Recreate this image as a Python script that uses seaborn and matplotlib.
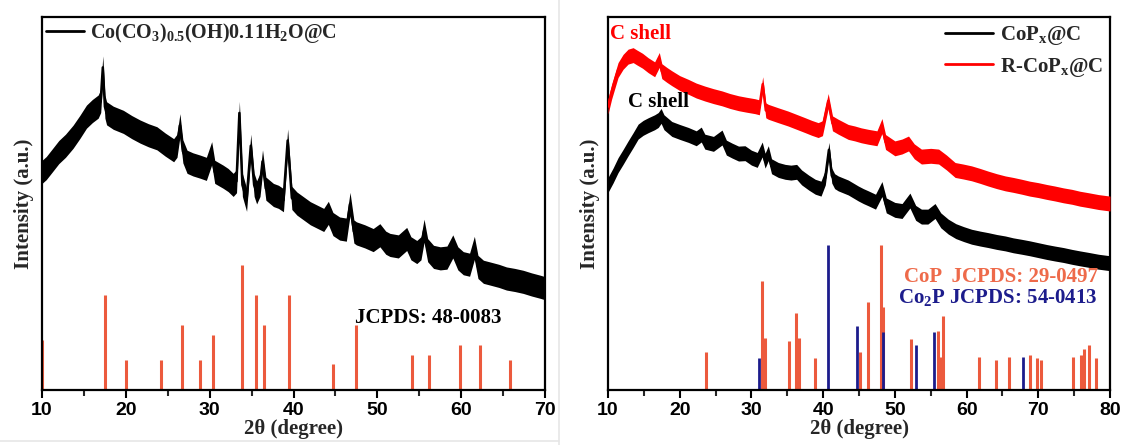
import matplotlib
matplotlib.use("Agg")
import matplotlib.pyplot as plt
from matplotlib.lines import Line2D
from matplotlib.ticker import MultipleLocator
import seaborn as sns
import pandas as pd
import numpy as np

# ---------------- data ----------------
# Left panel: Co(CO3)0.5(OH)0.11H2O@C pattern (2theta, intensity in % of axis height)
left_x = [10.0, 10.5, 11.2, 12.0, 12.8, 13.7, 14.5, 15.3, 16.0, 16.7, 17.0, 17.25, 17.5, 17.7,
          18.5, 19.7, 20.7, 21.7, 22.7, 23.7, 24.7, 25.7, 26.1, 26.45, 26.8, 27.3, 28.0, 28.85,
          29.6, 30.24, 30.6, 31.6, 32.2, 32.8, 33.2, 33.54, 33.9, 34.4, 34.9, 35.3, 35.6, 36.0,
          36.3, 36.7, 37.6, 38.2, 38.8, 39.3, 39.8, 40.4, 41.2, 42.0, 42.8, 43.6, 44.15, 44.7,
          45.5, 46.3, 46.74, 47.2, 47.5, 48.5, 49.5, 50.3, 51.0, 51.5, 52.5, 53.5, 54.0, 54.7,
          55.2, 55.57, 56.0, 56.7, 57.5, 58.3, 59.0, 59.6, 60.25, 61.0, 61.57, 62.0, 62.65, 63.5,
          64.5, 65.4, 66.4, 67.4, 68.4, 69.4, 70.0]
left_y = [58.5, 59.5, 61.5, 63.8, 65.5, 67.9, 70.5, 73.3, 74.8, 76.0, 77.5, 86.5, 76.0, 74.2,
          73.0, 71.9, 70.5, 69.3, 68.3, 67.5, 65.8, 64.3, 65.5, 71.0, 64.0, 61.2, 60.5, 59.9,
          59.3, 63.5, 58.5, 57.2, 56.3, 55.0, 56.0, 74.3, 55.0, 51.0, 65.5, 55.0, 53.0, 55.0,
          61.3, 54.0, 52.3, 51.8, 50.9, 66.9, 51.5, 50.0, 48.7, 47.4, 46.5, 45.6, 47.5, 44.5,
          43.3, 43.0, 49.9, 42.5, 42.0, 41.2, 40.2, 41.5, 39.5, 38.9, 38.5, 40.5, 38.0, 37.0,
          38.0, 42.7, 37.5, 35.7, 35.3, 35.5, 38.5, 35.3, 34.0, 33.6, 38.1, 33.0, 31.7, 31.2,
          30.6, 29.9, 29.5, 29.0, 28.3, 27.7, 27.3]

# JCPDS 48-0083 reference lines (2theta, relative intensity)
ref48_pos = [10.0, 17.5, 20.0, 24.2, 26.7, 28.8, 30.4, 33.8, 35.5, 36.5, 39.5, 44.7, 47.4,
             54.1, 56.1, 59.9, 62.3, 65.8]
ref48_int = [40, 76, 24, 24, 52, 24, 44, 100, 76, 52, 76, 21, 52, 28, 28, 36, 36, 24]

# Right panel: R-CoPx@C (red) and CoPx@C (black)
red_x = [10.0, 10.5, 11.4, 12.1, 12.8, 13.5, 14.0, 14.8, 15.6, 16.5, 17.15, 17.5, 18.2, 18.9,
         20.0, 21.2, 22.3, 23.5, 24.7, 25.9, 27.0, 28.2, 29.3, 30.5, 31.1, 31.57, 32.0, 32.35,
         33.7, 35.1, 36.3, 37.5, 38.4, 39.3, 39.9, 40.7, 41.3, 42.1, 43.5, 44.4, 45.3, 46.3,
         47.5, 48.2, 48.7, 50.0, 51.0, 51.9, 52.7, 53.7, 55.0, 56.1, 57.2, 58.4, 59.5, 60.7,
         61.9, 63.0, 64.2, 65.4, 66.5, 67.7, 68.8, 70.0, 71.2, 72.3, 73.5, 74.7, 75.8, 77.0,
         78.4, 80.0]
red_y = [76.0, 80.0, 85.8, 88.0, 89.4, 89.8, 89.2, 88.3, 87.1, 86.0, 88.5, 85.5, 84.5, 83.6,
         82.3, 81.3, 80.3, 79.5, 78.8, 78.2, 77.5, 76.9, 76.5, 76.1, 75.8, 82.0, 75.0, 74.6,
         73.7, 72.8, 71.9, 71.0, 70.3, 69.7, 70.2, 77.5, 71.5, 70.6, 69.2, 68.8, 68.3, 67.9,
         67.5, 70.8, 66.5, 64.8, 65.3, 66.1, 64.0, 62.6, 62.8, 62.6, 61.0, 59.0, 58.6, 58.1,
         57.4, 56.7, 56.0, 55.4, 55.0, 54.5, 54.0, 53.6, 53.1, 52.7, 52.2, 51.8, 51.3, 50.9,
         50.4, 50.0]
black_x = [10.0, 10.7, 11.4, 12.1, 12.8, 13.5, 14.2, 14.9, 15.6, 16.5, 17.0, 17.4, 17.8, 18.9,
           20.0, 21.2, 22.3, 23.0, 23.5, 24.7, 25.9, 26.5, 27.3, 28.2, 29.1, 30.0, 30.8, 31.5,
           31.9, 32.35, 32.8, 33.75, 34.7, 35.5, 36.3, 37.0, 38.0, 38.9, 39.7, 40.3, 40.8, 41.2,
           41.6, 42.1, 43.5, 44.9, 45.6, 46.3, 47.3, 48.2, 48.8, 50.0, 51.0, 52.1, 52.9, 53.7,
           54.6, 55.6, 56.4, 57.45, 58.5, 59.6, 60.7, 61.9, 63.0, 64.2, 65.4, 66.5, 67.7, 68.8,
           70.0, 71.2, 72.3, 73.5, 74.7, 75.8, 77.0, 78.4, 80.0]
black_y = [55.0, 57.5, 60.3, 62.5, 64.8, 67.0, 69.3, 70.3, 71.0, 71.8, 72.4, 73.5, 71.8, 70.0,
           69.2, 68.4, 67.5, 68.5, 66.6, 66.0, 67.7, 65.0, 64.2, 63.4, 63.5, 62.3, 61.7, 64.5,
           61.5, 63.5, 60.0, 59.0, 58.5, 58.3, 58.5, 57.0, 55.6, 54.5, 54.0, 57.0, 64.4, 57.5,
           56.0, 55.4, 54.3, 52.7, 52.0, 51.4, 50.5, 53.9, 49.5, 48.3, 48.0, 50.8, 47.5, 46.5,
           46.5, 48.0, 45.5, 43.8, 42.6, 41.8, 41.1, 40.6, 40.2, 39.7, 39.3, 38.8, 38.4, 38.0,
           37.5, 37.0, 36.6, 36.2, 35.7, 35.3, 34.9, 34.4, 34.0]

# CoP JCPDS 29-0497 reference lines
cop_pos = [23.6, 31.5, 31.9, 35.3, 36.2, 36.6, 38.9, 45.1, 46.2, 48.06, 48.4, 52.2, 56.0,
           56.3, 56.75, 61.7, 64.1, 65.95, 68.8, 69.75, 70.36, 74.8, 75.9, 76.4, 77.1, 78.0, 80.0]
cop_int = [26, 75, 36, 34, 53, 36, 22, 26, 61, 100, 57, 35, 41, 23, 51, 23, 21, 23, 24, 22,
           21, 23, 24, 28, 31, 22, 26]
# Co2P JCPDS 54-0413 reference lines
co2p_pos = [31.0, 40.7, 44.76, 48.3, 52.9, 55.4, 67.9]
co2p_int = [22, 100, 44, 40, 31, 40, 23]

# ---------------- style ----------------
sns.set_theme(style="ticks")
plt.rcParams["font.family"] = ["Liberation Serif", "DejaVu Serif"]
plt.rcParams["font.weight"] = "bold"
plt.rcParams["mathtext.default"] = "regular"

STICK_ORANGE = "#EC5A3D"
STICK_NAVY = "#1C1C8C"
LABEL_ORANGE = "#EE6A4A"

fig = plt.figure(figsize=(11.21, 4.45), dpi=100)
ax1 = fig.add_axes([0.0375, 0.1236, 0.4487, 0.838])
ax2 = fig.add_axes([0.5424, 0.1236, 0.4478, 0.838])

# faint separators present in the reference screenshot
fig.add_artist(Line2D([0.4985, 0.4985], [0.0, 1.0], transform=fig.transFigure,
                      color="#E6E6E6", lw=1.2))
fig.add_artist(Line2D([0.0, 0.4985], [0.01, 0.01], transform=fig.transFigure,
                      color="#E6E6E6", lw=1.2))


def style_axes(ax, xmin, xmax):
    ax.set_xlim(xmin, xmax)
    ax.set_ylim(0, 100)
    ax.set_yticks([])
    ax.xaxis.set_major_locator(MultipleLocator(10))
    ax.xaxis.set_minor_locator(MultipleLocator(5))
    ax.tick_params(axis="x", which="major", direction="out", length=6, width=1.5,
                   pad=3, colors="black")
    ax.tick_params(axis="x", which="minor", direction="out", length=4, width=1.5)
    for lab in ax.get_xticklabels():
        lab.set_fontfamily("Liberation Sans")
        lab.set_fontweight("bold")
        lab.set_fontsize(14)
    for sp in ax.spines.values():
        sp.set_visible(True)
        sp.set_linewidth(1.6)
        sp.set_color("black")
    ax.set_xlabel("2θ (degree)", fontsize=15, fontweight="bold", labelpad=0)
    ax.set_ylabel("Intensity (a.u.)", fontsize=15, fontweight="bold", labelpad=6)
    ax.set_facecolor("white")


def pattern(ax, xs, ys, color, hw, label):
    df = pd.DataFrame({"2theta": xs, "I": ys})
    ys_arr = np.asarray(ys)
    ax.fill_between(xs, ys_arr - hw, ys_arr + hw, color=color, lw=0, zorder=3)
    sns.lineplot(data=df, x="2theta", y="I", ax=ax, color=color, lw=1.8, label=label,
                 legend=False, zorder=3)


# ---- left panel ----
LEFT_STICK_MAX = 33.5
ax1.vlines(ref48_pos, 0, [v * LEFT_STICK_MAX / 100 for v in ref48_int], color=STICK_ORANGE,
           lw=2.2, zorder=2)
pattern(ax1, left_x, left_y, "black", 3.1, "left")
style_axes(ax1, 10, 70)
ax1.text(47.3, 19.3, "JCPDS: 48-0083", fontsize=15, fontweight="bold", va="center",
         ha="left", color="black")
h1 = [Line2D([], [], color="black", lw=2)]
ax1.legend(h1, [r"Co(CO$_3$)$_{0.5}$(OH)0.11H$_2$O@C"], loc="upper left",
           frameon=False, fontsize=14.5, handlelength=1.9, handletextpad=0.3,
           borderaxespad=0.0, borderpad=0.2)

# ---- right panel ----
RIGHT_STICK_MAX = 38.9
ax2.vlines(cop_pos, 0, [v * RIGHT_STICK_MAX / 100 for v in cop_int], color=STICK_ORANGE,
           lw=2.2, zorder=2)
ax2.vlines(co2p_pos, 0, [v * RIGHT_STICK_MAX / 100 for v in co2p_int], color=STICK_NAVY,
           lw=2.0, zorder=2)
pattern(ax2, red_x, red_y, "#FF0000", 2.0, "R-CoPx@C")
pattern(ax2, black_x, black_y, "black", 2.0, "CoPx@C")
style_axes(ax2, 10, 80)
ax2.text(10.3, 95.5, "C shell", color="#FF0000", fontsize=15, fontweight="bold",
         va="center", ha="left")
ax2.text(12.8, 77.2, "C shell", color="black", fontsize=15, fontweight="bold",
         va="center", ha="left")
ax2.text(78.3, 30.3, "CoP  JCPDS: 29-0497", color=LABEL_ORANGE, fontsize=15,
         fontweight="bold", va="center", ha="right")
ax2.text(78.3, 24.7, r"Co$_2$P JCPDS: 54-0413", color=STICK_NAVY, fontsize=15,
         fontweight="bold", va="center", ha="right")
h2 = [Line2D([], [], color="black", lw=2), Line2D([], [], color="#FF0000", lw=2)]
ax2.legend(h2, [r"CoP$_x$@C", r"R-CoP$_x$@C"], loc="upper right", frameon=False,
           fontsize=15, handlelength=2.3, handletextpad=0.3, labelspacing=0.4,
           borderaxespad=0.1, borderpad=0.25)

fig.savefig("out.png", dpi=100, facecolor="white")
